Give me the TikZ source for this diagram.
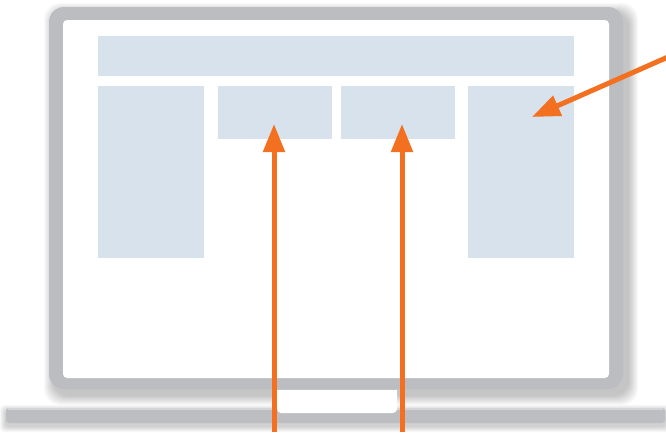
\documentclass[tikz,border=0pt]{standalone}
\usetikzlibrary{arrows.meta}
\definecolor{framegray}{HTML}{BCBDC1}
\definecolor{basegray}{HTML}{BDBEC2}
\definecolor{baselight}{HTML}{D4D5D8}
\definecolor{boxblue}{HTML}{D8E2EC}
\definecolor{arroworange}{HTML}{F37021}
\tikzset{
  box/.style={fill=boxblue, draw=none, inner sep=0pt, outer sep=0pt, anchor=north west},
  arr/.style={draw=arroworange, line width=5pt, -{Triangle[length=28pt,width=21pt]}, arroworange},
}
\begin{document}
\begin{tikzpicture}[x=1pt,y=-1pt]
\useasboundingbox (0,0) rectangle (666,432);
\fill[white] (0,0) rectangle (666,432);
% shadow of screen
\foreach \i in {1,...,10}{
  \fill[black,opacity=0.022,rounded corners=16pt] (49+5-\i,7+6-\i) rectangle (623+5+\i,389+6+\i);
}
% shadow of base
\foreach \i in {1,...,6}{
  \fill[black,opacity=0.03,rounded corners=4pt] (6-\i,408+3-\i) rectangle (665+\i,423+3+\i);
}
% screen frame
\fill[framegray,rounded corners=15pt] (49,7) rectangle (623,389);
\fill[white,rounded corners=4pt] (63,20) rectangle (609,378);
% base
\fill[basegray,rounded corners=3pt] (6,408) rectangle (665,423);
\fill[baselight] (8,408) rectangle (663,410);
% notch
\fill[white,rounded corners=4pt] (277,390) rectangle (397,413);
\fill[white] (277,390) rectangle (397,405);
% screen content
\node[box, minimum width=476pt, minimum height=40pt] (top) at (98,36) {};
\node[box, minimum width=106pt, minimum height=172pt] (left) at (98,86) {};
\node[box, minimum width=114pt, minimum height=53pt] (mid1) at (218,86) {};
\node[box, minimum width=114pt, minimum height=53pt] (mid2) at (341,86) {};
\node[box, minimum width=106pt, minimum height=172pt] (right) at (468,86) {};
% arrows
\coordinate (s1) at (274,432);
\coordinate (t1) at (274,124);
\coordinate (s2) at (402,432);
\coordinate (t2) at (402,124);
\coordinate (s3) at (668,57);
\coordinate (t3) at (532,117);
\draw[arr] (s1) -- (t1);
\draw[arr] (s2) -- (t2);
\draw[arr] (s3) -- (t3);
\end{tikzpicture}
\end{document}
